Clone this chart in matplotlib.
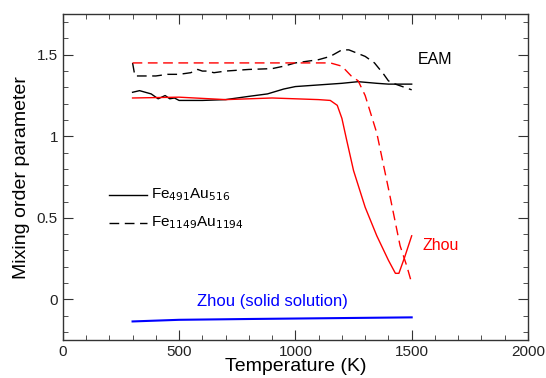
import numpy as np
import matplotlib.pyplot as plt
from matplotlib.ticker import MultipleLocator

plt.rcParams['font.family'] = ['Liberation Sans', 'DejaVu Sans']

# Fe491Au516, EAM (black solid)
t_small = [300, 330, 380, 410, 440, 460, 480, 500, 600, 700, 800, 880, 950, 1000,
           1100, 1200, 1270, 1350, 1400, 1500]
m_small = [1.27, 1.28, 1.26, 1.23, 1.25, 1.23, 1.235, 1.22, 1.22, 1.225, 1.245, 1.26,
           1.29, 1.305, 1.315, 1.325, 1.335, 1.325, 1.32, 1.32]

# Fe1149Au1194, EAM (black dashed)
t_big = [300, 310, 400, 450, 500, 550, 580, 600, 620, 650, 700, 800, 900, 950, 1000,
         1100, 1150, 1200, 1230, 1300, 1340, 1380, 1400, 1430, 1470, 1500]
m_big = [1.45, 1.37, 1.37, 1.38, 1.38, 1.39, 1.41, 1.40, 1.40, 1.39, 1.40, 1.41, 1.415,
         1.43, 1.45, 1.47, 1.49, 1.53, 1.53, 1.49, 1.45, 1.38, 1.34, 1.32, 1.30, 1.285]

# Zhou, small cluster (red solid)
t_zs = [300, 500, 700, 900, 1100, 1150, 1180, 1200, 1220, 1250, 1300, 1350, 1400,
        1430, 1445, 1470, 1500]
m_zs = [1.235, 1.24, 1.225, 1.235, 1.225, 1.22, 1.19, 1.11, 0.98, 0.79, 0.565, 0.39,
        0.24, 0.16, 0.16, 0.26, 0.39]

# Zhou, big cluster (red dashed)
t_zb = [300, 700, 1150, 1200, 1240, 1270, 1300, 1350, 1400, 1450, 1480, 1500]
m_zb = [1.45, 1.45, 1.45, 1.43, 1.37, 1.34, 1.25, 1.02, 0.68, 0.33, 0.20, 0.10]

# Zhou solid solution (blue)
t_ss = [300, 500, 800, 1150, 1500]
m_ss = [-0.135, -0.125, -0.12, -0.115, -0.11]

fig = plt.figure(figsize=(5.46, 3.78), dpi=100)
ax = fig.add_axes([0.115, 0.10, 0.852, 0.863])

dash = (0, (7, 4))
ax.plot(t_small, m_small, color='black', lw=1)
ax.plot(t_big, m_big, color='black', lw=1, linestyle=dash)
ax.plot(t_zs, m_zs, color='red', lw=1)
ax.plot(t_zb, m_zb, color='red', lw=1, linestyle=dash)
ax.plot(t_ss, m_ss, color='blue', lw=1.5)

# legend drawn by hand like the original
ax.plot([200, 360], [0.64, 0.64], color='black', lw=1)
ax.plot([200, 360], [0.47, 0.47], color='black', lw=1, linestyle=dash)
ax.text(380, 0.64, 'Fe$_{491}$Au$_{516}$', fontsize=11, va='center')
ax.text(380, 0.47, 'Fe$_{1149}$Au$_{1194}$', fontsize=11, va='center')

ax.text(1525, 1.47, 'EAM', fontsize=11.5, va='center')
ax.text(1545, 0.33, 'Zhou', fontsize=11.5, va='center', color='red')
ax.text(575, -0.01, 'Zhou (solid solution)', fontsize=12, va='center', color='blue')

ax.set_xlim(0, 2000)
ax.set_ylim(-0.25, 1.75)
ax.xaxis.set_major_locator(MultipleLocator(500))
ax.xaxis.set_minor_locator(MultipleLocator(100))
ax.yaxis.set_major_locator(MultipleLocator(0.5))
ax.yaxis.set_minor_locator(MultipleLocator(0.1))
ax.yaxis.set_major_formatter(plt.FuncFormatter(lambda v, p: '%g' % v))
ax.tick_params(which='both', direction='in', top=True, right=True, labelsize=11,
               color='#333333', labelcolor='#222222')
ax.tick_params(which='major', length=7)
ax.tick_params(which='minor', length=3.5)
for s in ax.spines.values():
    s.set_linewidth(1)
    s.set_color('#333333')

ax.set_xlabel('Temperature (K)', fontsize=14, labelpad=-1)
ax.set_ylabel('Mixing order parameter', fontsize=14, labelpad=5)

fig.savefig('out.png', dpi=100)
